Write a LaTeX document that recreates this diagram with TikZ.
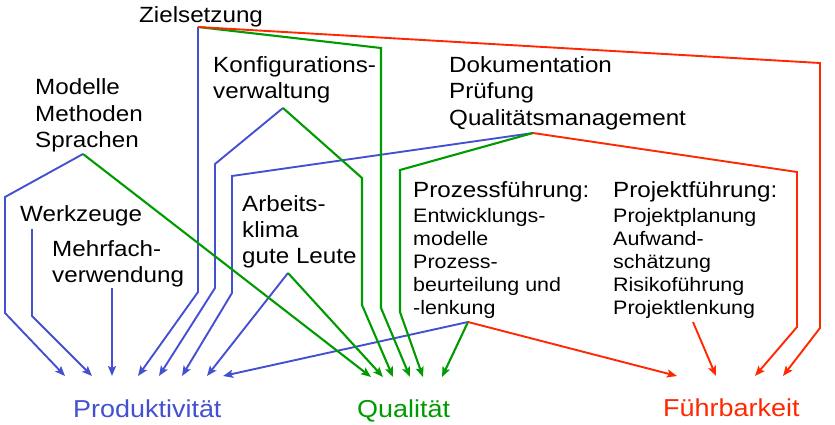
\documentclass[tikz,border=0pt]{standalone}
\usepackage{fontspec}
\setmainfont[FakeStretch=1.1]{Liberation Sans}
\usepackage{tikz}
\usetikzlibrary{arrows.meta}
\definecolor{pblue}{RGB}{68,80,210}
\definecolor{qgreen}{RGB}{0,155,0}
\definecolor{fred}{RGB}{255,40,0}
% multi-line texts sit on the baseline of their last line
\tikzstyle{txt}=[anchor=base west, inner sep=0pt, align=left, font=\fontsize{22}{26}\selectfont]
\tikzstyle{subtxt}=[anchor=base west, inner sep=0pt, align=left, font=\fontsize{19.5}{23}\selectfont]
\tikzstyle{goal}=[anchor=base west, inner sep=0pt, font=\fontsize{24.5}{28}\selectfont]
\tikzstyle{conn}=[line width=1.9pt, -{Stealth[length=10pt, width=8pt, inset=2pt]}]
\tikzstyle{qconn}=[conn, qgreen, line width=2.1pt]

\begin{document}
\begin{tikzpicture}[x=1pt, y=-1pt]
    \useasboundingbox (0,0) rectangle (835,425);
    % texts
    \node[txt] (ziel) at (139,23) {Zielsetzung};
    \node[txt] (modelle) at (35,147) {Modelle\\Methoden\\Sprachen};
    \node[txt] (werkz) at (20,221) {Werkzeuge};
    \node[txt] (mehrf) at (52,282) {Mehrfach-\\verwendung};
    \node[txt] (konf) at (213,99) {Konfigurations-\\verwaltung};
    \node[txt] (arbeit) at (242,263) {Arbeits-\\klima\\gute Leute};
    \node[txt] (doku) at (449,125) {Dokumentation\\Prüfung\\Qualitätsmanagement};
    \node[txt] (prozess) at (413,197) {Prozessführung:};
    \node[subtxt] (prozlist) at (413,314) {Entwicklungs-\\modelle\\Prozess-\\beurteilung und\\-lenkung};
    \node[txt] (projekt) at (613,197) {Projektführung:};
    \node[subtxt] (projlist) at (613,314) {Projektplanung\\Aufwand-\\schätzung\\Risikoführung\\Projektlenkung};
    \node[goal, text=pblue] (prod) at (73,417) {Produktivität};
    \node[goal, text=qgreen] (qual) at (357,417) {Qualität};
    \node[goal, text=fred] (fuehr) at (663,416) {Führbarkeit};
    % where the lines leave the texts
    \coordinate (zielP) at (198,27);
    \coordinate (modP) at (83,154);
    \coordinate (werkP) at (32,229);
    \coordinate (mehrP) at (112,288);
    \coordinate (konfP) at (283,108);
    \coordinate (arbP) at (288,273);
    \coordinate (dokP) at (533,133);
    \coordinate (prozP) at (468,322);
    \coordinate (projP) at (693,322);
    % arrow ends
    \foreach \x [count=\i] in {65,92,112,138,159,182,207,223}
        \coordinate (p\i) at (\x,376);
    \foreach \x [count=\i] in {371,383,393,410,423,442}
        \coordinate (q\i) at (\x,377);
    \foreach \x [count=\i] in {677,716,755,783}
        \coordinate (f\i) at (\x,376);
    % Produktivitaet
    \draw[conn, pblue] (modP) -- (5,197) -- (5,313) -- (p1);
    \draw[conn, pblue] (werkP) -- (32,316) -- (p2);
    \draw[conn, pblue] (mehrP) -- (p3);
    \draw[conn, pblue] (zielP) -- (198,292) -- (p4);
    \draw[conn, pblue] (konfP) -- (215,164) -- (215,288) -- (p5);
    \draw[conn, pblue] (dokP) -- (232,176) -- (232,293) -- (p6);
    \draw[conn, pblue] (arbP) -- (p7);
    \draw[conn, pblue] (prozP) -- (p8);
    % Qualitaet
    \draw[qconn] (modP) -- (q1);
    \draw[qconn] (arbP) -- (q2);
    \draw[qconn] (konfP) -- (362,178) -- (362,305) -- (q3);
    \draw[qconn] (zielP) -- (381,48) -- (381,308) -- (q4);
    \draw[qconn] (dokP) -- (400,170) -- (400,312) -- (q5);
    \draw[qconn] (prozP) -- (q6);
    % Fuehrbarkeit
    \draw[conn, fred] (prozP) -- (f1);
    \draw[conn, fred] (projP) -- (f2);
    \draw[conn, fred] (dokP) -- (797,172) -- (797,327) -- (f3);
    \draw[conn, fred] (zielP) -- (820,63) -- (820,328) -- (f4);
\end{tikzpicture}
\end{document}
